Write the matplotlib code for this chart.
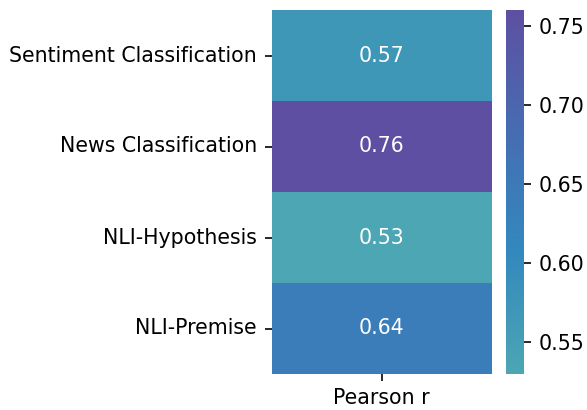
import matplotlib
matplotlib.use("Agg")
import matplotlib.pyplot as plt
import pandas as pd
import seaborn as sns
from matplotlib.colors import LinearSegmentedColormap

tasks = ["Sentiment Classification", "News Classification", "NLI-Hypothesis", "NLI-Premise"]
pearson_r = [0.57, 0.76, 0.53, 0.64]
column = ["Pearson r"]

df = pd.DataFrame({column[0]: pearson_r}, index=tasks)

cmap = LinearSegmentedColormap.from_list(
    "teal_purple",
    [(0.0, "#4ca6b3"), (0.33, "#3389bd"), (0.55, "#3e77b7"), (1.0, "#5e4fa2")],
)

W, H, DPI = 587, 410, 148
fig = plt.figure(figsize=(W / DPI, H / DPI), dpi=DPI)
ax = fig.add_axes([271.5 / W, 36 / H, 220.5 / W, 364 / H])
cax = fig.add_axes([505.7 / W, 36 / H, 18.6 / W, 364 / H])

sns.heatmap(df, annot=True, fmt=".2f", cmap=cmap, ax=ax, cbar_ax=cax)
ax.set_yticklabels(tasks, rotation=0)
cax.set_yticks([0.55, 0.60, 0.65, 0.70, 0.75])

fig.savefig("out.png", dpi=DPI)
